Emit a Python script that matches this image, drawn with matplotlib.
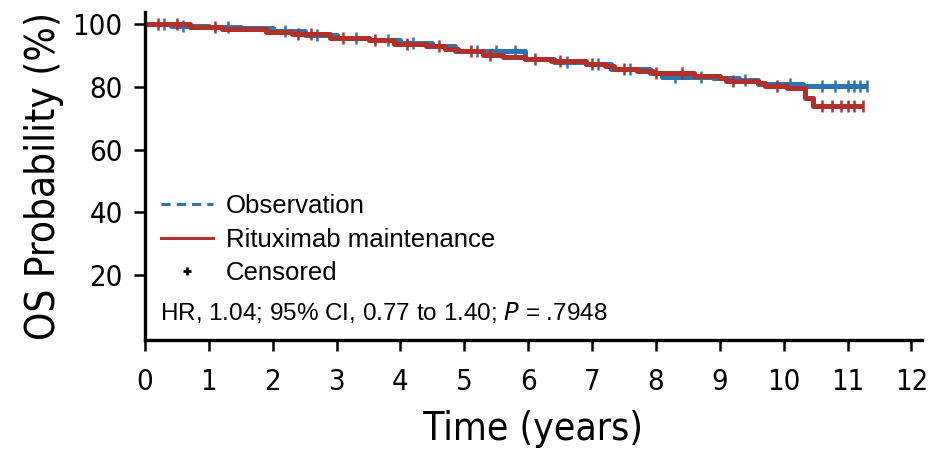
import matplotlib
matplotlib.use("Agg")
import matplotlib.pyplot as plt
from matplotlib import font_manager
from matplotlib.lines import Line2D

# Observation arm (step curve), time in years, OS %
obs_t = [0, 0.4, 1.0, 1.5, 2.0, 2.5, 3.0, 3.5, 4.0, 4.5, 4.85, 5.95, 6.4, 6.9,
         7.3, 7.9, 8.1, 8.9, 9.3, 9.6, 10.3, 11.3]
obs_s = [100, 99.5, 99.0, 98.6, 97.8, 96.5, 95.5, 95.0, 94.0, 93.0, 91.3, 88.9,
         88.0, 87.3, 85.8, 84.3, 83.3, 82.8, 82.3, 80.8, 80.3, 80.3]
obs_cens = [0.3, 0.6, 1.3, 2.2, 2.7, 3.3, 3.8, 4.2, 5.2, 5.5, 5.8, 6.6, 7.1,
            7.6, 8.3, 8.7, 9.4, 10.1, 10.6, 10.8, 11.0, 11.1, 11.2, 11.3]

# Rituximab maintenance arm
rit_t = [0, 0.7, 1.2, 1.9, 2.3, 2.9, 3.5, 3.9, 4.4, 4.7, 4.9, 5.3, 5.6, 5.95,
         6.35, 6.9, 7.2, 7.35, 7.7, 7.95, 8.6, 9.0, 9.1, 9.6, 9.7, 10.05,
         10.33, 10.46, 11.24]
rit_s = [100, 99.2, 98.5, 97.5, 96.7, 95.5, 94.8, 93.8, 93.0, 92.2, 91.3, 90.2,
         89.6, 88.8, 88.1, 87.4, 86.5, 85.7, 85.0, 84.3, 83.6, 82.8, 81.8,
         81.2, 80.3, 79.6, 76.6, 73.8, 73.8]
rit_cens = [0.2, 0.5, 1.1, 2.4, 2.6, 3.1, 3.6, 4.1, 4.6, 5.1, 5.4, 6.1, 6.5,
            7.0, 7.5, 8.0, 8.4, 9.2, 9.9, 10.6, 10.75, 10.9, 11.0, 11.1, 11.24]

xticks = list(range(0, 13))
yticks = [20, 40, 60, 80, 100]

blue = "#2b76b0"
red = "#b0302b"
sans = ["Liberation Sans", "DejaVu Sans"]


def narrow(size):
    return font_manager.FontProperties(family="DejaVu Sans", stretch="condensed",
                                       size=size)


def surv_at(ts, ss, t):
    val = ss[0]
    for a, b in zip(ts, ss):
        if a <= t:
            val = b
    return val


fig = plt.figure(figsize=(9.31, 4.49), dpi=100)
ax = fig.add_axes([0.1557, 0.2428, 0.8343, 0.7302])

ax.step(obs_t, obs_s, where="post", color=blue, lw=3.6, solid_capstyle="butt")
ax.plot(obs_cens, [surv_at(obs_t, obs_s, t) for t in obs_cens], ls="none",
        marker="|", ms=8, mew=1.8, color=blue)
ax.step(rit_t, rit_s, where="post", color=red, lw=3.6, solid_capstyle="butt")
ax.plot(rit_cens, [surv_at(rit_t, rit_s, t) for t in rit_cens], ls="none",
        marker="|", ms=8, mew=1.8, color=red)

ax.set_xlim(0, 12.16)
ax.set_ylim(-0.6, 103.8)
ax.set_xticks(xticks)
ax.set_yticks(yticks)
ax.set_xticklabels([str(v) for v in xticks], fontproperties=narrow(21))
ax.set_yticklabels([str(v) for v in yticks], fontproperties=narrow(21))
ax.tick_params(axis="x", direction="out", length=8, width=1.8, pad=12)
ax.tick_params(axis="y", direction="out", length=8, width=1.8, pad=8)
for s in ["top", "right"]:
    ax.spines[s].set_visible(False)
for s in ["left", "bottom"]:
    ax.spines[s].set_linewidth(2.4)

ax.set_xlabel("Time (years)", fontproperties=narrow(28), labelpad=10)
ax.set_ylabel("OS Probability (%)", fontproperties=narrow(29), labelpad=6)

handles = [
    Line2D([], [], color=blue, lw=2.2, ls=(0, (3, 2))),
    Line2D([], [], color=red, lw=2.2),
    Line2D([], [], ls="none", marker="+", ms=6, mew=2, color="black"),
]
ax.legend(handles, ["Observation", "Rituximab maintenance", "Censored"],
          loc="lower left", bbox_to_anchor=(0.008, 0.135), frameon=False,
          prop={"family": sans, "size": 18.5}, handlelength=2.0,
          handletextpad=0.5, labelspacing=0.38, borderaxespad=0)

ax.text(0.02, 0.085, "HR, 1.04; 95% CI, 0.77 to 1.40; $\\mathit{P}$ = .7948",
        transform=ax.transAxes, family=sans, fontsize=17.5, va="center")

fig.savefig("out.png", dpi=100)
